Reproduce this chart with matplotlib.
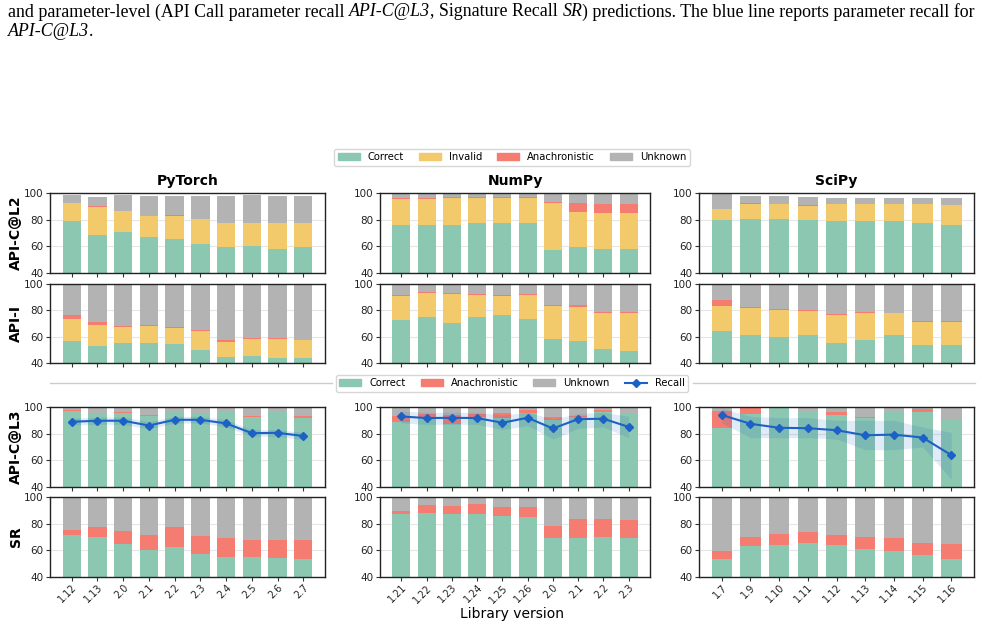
# Stacked error-category bars per library version, with recall line on API-C@L3

import numpy as np
import matplotlib
matplotlib.use("Agg")
import matplotlib.pyplot as plt
from matplotlib.patches import Patch
from matplotlib.lines import Line2D

W, H = 988, 625

torch_versions = ["1.12", "1.13", "2.0", "2.1", "2.2", "2.3", "2.4", "2.5", "2.6", "2.7"]
numpy_versions = ["1.21", "1.22", "1.23", "1.24", "1.25", "1.26", "2.0", "2.1", "2.2", "2.3"]
scipy_versions = ["1.7", "1.9", "1.10", "1.11", "1.12", "1.13", "1.14", "1.15", "1.16"]

# API-C@L2
torch_l2_correct = [79.0, 68.2, 71.0, 67.2, 65.5, 61.5, 59.2, 60.0, 58.2, 59.2]
torch_l2_invalid = [13.3, 21.3, 15.3, 15.2, 17.5, 18.8, 18.0, 17.2, 19.0, 18.0]
torch_l2_anach = [0.5, 0.7, 0.4, 0.5, 0.4, 0.3, 0.5, 0.5, 0.2, 0.3]
torch_l2_unknown = [6.0, 7.0, 12.0, 15.1, 14.6, 17.4, 20.3, 21.0, 20.6, 20.5]

numpy_l2_correct = [75.8, 75.8, 76.2, 77.2, 77.2, 77.2, 57.5, 59.2, 58.2, 58.2]
numpy_l2_invalid = [19.9, 19.9, 20.4, 19.4, 19.4, 19.4, 35.3, 26.8, 27.0, 27.0]
numpy_l2_anach = [0.7, 0.8, 0.3, 0.3, 0.3, 0.3, 0.5, 6.2, 6.3, 6.3]
numpy_l2_unknown = [3.1, 3.0, 2.6, 2.6, 2.6, 2.6, 6.2, 7.3, 8.0, 8.0]

scipy_l2_correct = [79.5, 80.2, 80.2, 80.0, 79.2, 78.7, 78.7, 77.2, 76.2]
scipy_l2_invalid = [8.2, 11.3, 11.3, 10.5, 12.3, 12.8, 12.8, 14.3, 14.5]
scipy_l2_anach = [0.6, 0.7, 0.6, 0.7, 0.2, 0.2, 0.2, 0.2, 0.3]
scipy_l2_unknown = [11.7, 5.8, 5.9, 6.0, 4.8, 4.8, 4.8, 4.8, 5.5]

# API-I
torch_i_correct = [56.7, 52.6, 55.2, 55.2, 54.2, 50.1, 44.8, 45.1, 43.6, 43.6]
torch_i_invalid = [16.8, 16.4, 12.3, 12.6, 12.6, 14.4, 10.9, 13.3, 14.8, 13.6]
torch_i_anach = [2.8, 1.8, 0.8, 1.0, 0.7, 0.5, 1.7, 0.5, 0.5, 0.5]
torch_i_unknown = [22.9, 29.2, 31.7, 31.2, 32.5, 35.0, 42.6, 41.1, 41.1, 42.3]

numpy_i_correct = [72.8, 75.1, 70.0, 75.1, 76.1, 73.6, 58.4, 56.9, 50.9, 49.1]
numpy_i_invalid = [18.4, 18.1, 22.7, 16.8, 14.8, 18.3, 25.2, 26.0, 26.7, 28.5]
numpy_i_anach = [0.7, 0.5, 0.5, 0.5, 0.5, 0.5, 0.5, 1.2, 1.5, 1.5]
numpy_i_unknown = [8.1, 6.3, 6.8, 7.6, 8.6, 7.6, 15.1, 15.9, 20.9, 20.9]

scipy_i_correct = [64.5, 61.0, 60.0, 61.0, 55.4, 57.2, 61.5, 53.9, 53.9]
scipy_i_invalid = [18.9, 20.9, 20.4, 18.6, 21.4, 20.9, 16.1, 17.4, 17.4]
scipy_i_anach = [4.5, 0.7, 0.5, 0.5, 0.5, 0.5, 0.7, 0.7, 0.7]
scipy_i_unknown = [12.1, 17.4, 19.1, 19.9, 22.7, 21.4, 21.7, 28.0, 28.0]

# API-C@L3 (no invalid category) + parameter recall
torch_l3_correct = [96.7, 95.5, 95.2, 93.4, 96.7, 95.5, 96.2, 92.2, 96.0, 91.7]
torch_l3_anach = [1.3, 0.3, 0.7, 0.8, 0.3, 0.3, 0.2, 0.7, 0.3, 1.7]
torch_l3_unknown = [2.0, 4.2, 4.1, 5.8, 3.0, 4.2, 3.6, 7.1, 3.7, 6.6]
torch_recall = [88.9, 89.7, 89.7, 86.1, 90.4, 90.4, 87.7, 80.4, 80.6, 78.3]
torch_recall_lo = [86.5, 87.0, 87.0, 83.5, 88.0, 88.0, 85.0, 78.0, 78.0, 75.5]
torch_recall_hi = [91.5, 92.5, 92.5, 89.0, 93.0, 93.0, 90.5, 83.0, 83.0, 81.0]

numpy_l3_correct = [88.7, 92.7, 87.5, 92.2, 91.7, 95.5, 89.9, 92.2, 96.2, 95.2]
numpy_l3_anach = [4.5, 2.3, 6.7, 2.8, 3.5, 2.0, 2.8, 1.2, 1.5, 0.5]
numpy_l3_unknown = [6.8, 5.0, 5.8, 5.0, 4.8, 2.5, 7.3, 6.6, 2.3, 4.3]
numpy_recall = [92.9, 91.7, 91.9, 91.7, 88.2, 91.9, 83.9, 90.9, 91.2, 85.1]
numpy_recall_lo = [88.0, 87.0, 87.0, 87.0, 83.0, 86.0, 76.0, 84.0, 85.0, 77.0]
numpy_recall_hi = [97.0, 96.0, 96.0, 96.0, 94.0, 96.0, 91.0, 95.0, 96.0, 93.0]

scipy_l3_correct = [84.6, 94.7, 99.2, 96.0, 93.7, 91.9, 96.7, 96.2, 90.7]
scipy_l3_anach = [12.1, 5.3, 0.0, 0.2, 2.3, 0.3, 0.3, 2.0, 0.3]
scipy_l3_unknown = [3.3, 0.0, 0.8, 3.8, 4.0, 7.8, 3.0, 1.8, 9.0]
scipy_recall = [94.0, 87.4, 84.4, 84.1, 82.6, 78.8, 79.3, 77.1, 64.0]
scipy_recall_lo = [88.0, 77.0, 77.0, 77.0, 76.0, 68.0, 68.0, 70.0, 46.0]
scipy_recall_hi = [99.0, 93.0, 92.0, 92.0, 90.0, 90.0, 90.0, 85.0, 81.0]

# SR
torch_sr_correct = [71.5, 70.0, 64.7, 60.2, 62.5, 57.2, 54.9, 54.9, 54.2, 53.4]
torch_sr_anach = [3.8, 7.3, 9.9, 11.1, 15.1, 13.3, 14.1, 12.6, 13.3, 14.1]
torch_sr_unknown = [24.7, 22.7, 25.4, 28.7, 22.4, 29.5, 31.0, 32.5, 32.5, 32.5]

numpy_sr_correct = [87.4, 88.2, 87.4, 87.4, 85.9, 85.1, 69.5, 69.5, 70.3, 69.5]
numpy_sr_anach = [1.8, 5.5, 6.0, 7.3, 6.8, 7.1, 9.1, 14.1, 13.3, 12.9]
numpy_sr_unknown = [10.8, 6.3, 6.6, 5.3, 7.3, 7.8, 21.4, 16.4, 16.4, 17.6]

scipy_sr_correct = [53.6, 63.2, 64.2, 65.7, 64.2, 61.2, 59.7, 56.7, 53.6]
scipy_sr_anach = [5.8, 6.8, 7.8, 7.9, 7.1, 9.1, 9.6, 9.0, 11.1]
scipy_sr_unknown = [40.6, 30.0, 28.0, 26.4, 28.7, 29.7, 30.7, 34.3, 35.3]

C_CORRECT = "#8cc7b1"
C_INVALID = "#f2c96b"
C_ANACH = "#f47c70"
C_UNKNOWN = "#b3b3b3"
C_RECALL = "#1c62c6"

libs = ["PyTorch", "NumPy", "SciPy"]
versions = [torch_versions, numpy_versions, scipy_versions]
row_names = ["API-C@L2", "API-I", "API-C@L3", "SR"]

panels = [
    [(torch_l2_correct, torch_l2_invalid, torch_l2_anach, torch_l2_unknown),
     (numpy_l2_correct, numpy_l2_invalid, numpy_l2_anach, numpy_l2_unknown),
     (scipy_l2_correct, scipy_l2_invalid, scipy_l2_anach, scipy_l2_unknown)],
    [(torch_i_correct, torch_i_invalid, torch_i_anach, torch_i_unknown),
     (numpy_i_correct, numpy_i_invalid, numpy_i_anach, numpy_i_unknown),
     (scipy_i_correct, scipy_i_invalid, scipy_i_anach, scipy_i_unknown)],
    [(torch_l3_correct, None, torch_l3_anach, torch_l3_unknown),
     (numpy_l3_correct, None, numpy_l3_anach, numpy_l3_unknown),
     (scipy_l3_correct, None, scipy_l3_anach, scipy_l3_unknown)],
    [(torch_sr_correct, None, torch_sr_anach, torch_sr_unknown),
     (numpy_sr_correct, None, numpy_sr_anach, numpy_sr_unknown),
     (scipy_sr_correct, None, scipy_sr_anach, scipy_sr_unknown)],
]
recalls = [(torch_recall, torch_recall_lo, torch_recall_hi),
           (numpy_recall, numpy_recall_lo, numpy_recall_hi),
           (scipy_recall, scipy_recall_lo, scipy_recall_hi)]

# pixel boxes of the panels
col_px = [(50, 325), (380, 650), (699, 974)]
row_px = [(193, 273), (284, 363), (407, 487), (497, 577)]

fig = plt.figure(figsize=(W / 100, H / 100), dpi=100)

for r, (top, bot) in enumerate(row_px):
    for c, (left, right) in enumerate(col_px):
        ax = fig.add_axes([left / W, 1 - bot / H, (right - left) / W, (bot - top) / H])
        correct, invalid, anach, unknown = panels[r][c]
        x = np.arange(len(correct))
        bottom = np.zeros(len(correct))
        for vals, col in [(correct, C_CORRECT), (invalid, C_INVALID),
                          (anach, C_ANACH), (unknown, C_UNKNOWN)]:
            if vals is None:
                continue
            ax.bar(x, vals, 0.72, bottom=bottom, color=col, zorder=2)
            bottom = bottom + np.array(vals)
        if r == 2:
            rec, lo, hi = recalls[c]
            ax.fill_between(x, lo, hi, color=C_RECALL, alpha=0.13, lw=0, zorder=3)
            ax.plot(x, rec, color=C_RECALL, marker="D", ms=4, lw=1.5, zorder=4)
        ax.set_ylim(40, 100)
        ax.set_yticks([40, 60, 80, 100])
        ax.yaxis.grid(True, color="#e6e6e6", lw=0.8, zorder=0)
        ax.set_axisbelow(True)
        ax.set_xticks(x)
        ax.tick_params(labelsize=7.5, length=3, color="#333333", labelcolor="#222222", pad=1.5)
        ax.tick_params(axis="x", labelsize=7, pad=1)
        if r == 3:
            ax.set_xticklabels(versions[c], rotation=45, ha="right", rotation_mode="anchor")
        else:
            ax.set_xticklabels([])
        if r == 0:
            ax.set_title(libs[c], fontsize=10, fontweight="bold", pad=6)
        if c == 0:
            ax.set_ylabel(row_names[r], fontsize=10, fontweight="bold", labelpad=1)
        for sp in ax.spines.values():
            sp.set_color("#222222")
            sp.set_linewidth(1.0)

# legends
leg_kw = dict(loc="center", ncol=4, fontsize=7.2, frameon=True, handlelength=2.2,
              handleheight=0.7, columnspacing=1.5, borderpad=0.35, handletextpad=0.8,
              fancybox=True, edgecolor="#cccccc")
h1 = [Patch(color=C_CORRECT, label="Correct"), Patch(color=C_INVALID, label="Invalid"),
      Patch(color=C_ANACH, label="Anachronistic"), Patch(color=C_UNKNOWN, label="Unknown")]
fig.legend(handles=h1, bbox_to_anchor=(512 / W, 1 - 157 / H), **leg_kw)
h2 = [Patch(color=C_CORRECT, label="Correct"), Patch(color=C_ANACH, label="Anachronistic"),
      Patch(color=C_UNKNOWN, label="Unknown"),
      Line2D([], [], color=C_RECALL, marker="D", ms=4, lw=1.5, label="Recall")]
fig.legend(handles=h2, bbox_to_anchor=(512 / W, 1 - 383 / H), **leg_kw)

# separator lines either side of the second legend
ysep = 1 - 383 / H
fig.add_artist(Line2D([50 / W, 332 / W], [ysep, ysep], color="#cccccc", lw=1))
fig.add_artist(Line2D([693 / W, 975 / W], [ysep, ysep], color="#cccccc", lw=1))

fig.text(512 / W, 1 - 614 / H, "Library version", ha="center", va="center", fontsize=10)

# caption text from the paper page above the figure
renderer = fig.canvas.get_renderer()


def draw_runs(y_px, runs, x_px=8, size=12.9):
    x = x_px / W
    for s, style in runs:
        t = fig.text(x, 1 - y_px / H, s, family="Liberation Serif", style=style,
                     fontsize=size, va="center", ha="left")
        x += t.get_window_extent(renderer=renderer).width / W


draw_runs(12, [("and parameter-level (API Call parameter recall ", "normal"),
               ("API-C@L3", "italic"), (", Signature Recall ", "normal"),
               ("SR", "italic"),
               (") predictions. The blue line reports parameter recall for", "normal")])
draw_runs(31, [("API-C@L3", "italic"), (".", "normal")])

fig.savefig("out.png", dpi=100)
